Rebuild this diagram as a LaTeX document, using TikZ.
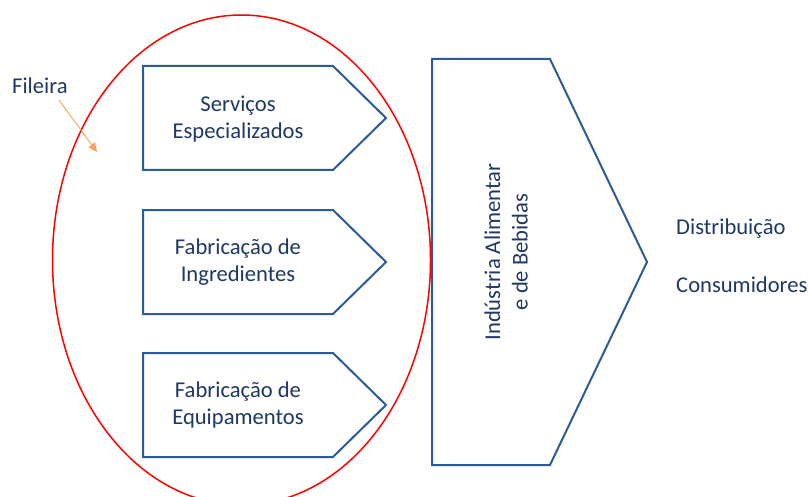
\documentclass[tikz,border=0pt]{standalone}
\usepackage{fontspec}
\setmainfont{Carlito}
\usetikzlibrary{arrows.meta}
\definecolor{lineblue}{HTML}{2B5C99}
\definecolor{txtnavy}{HTML}{1F3864}
\definecolor{ringred}{HTML}{FF0000}
\definecolor{arroworange}{HTML}{F7A35C}
\tikzset{
  chev/.style={draw=lineblue, line width=2pt, line join=miter},
  lbl/.style={text=txtnavy, font=\fontsize{22.6}{27.5}\selectfont, align=center, inner sep=0pt},
  sidelbl/.style={text=txtnavy, font=\fontsize{22.6}{27.5}\selectfont, anchor=west, inner sep=0pt},
}
\begin{document}
\begin{tikzpicture}[x=1pt,y=-1pt]
\useasboundingbox (0,0) rectangle (808,497);
\fill[white] (0,0) rectangle (808,497);
% ellipse
\draw[ringred, line width=1.5pt] (241.5,260) ellipse [x radius=189, y radius=245];
% small chevrons
\draw[chev] (143,66) -- (333,66) -- (386,118) -- (333,170) -- (143,170) -- cycle;
\draw[chev] (143,210) -- (333,210) -- (386,262) -- (333,314) -- (143,314) -- cycle;
\draw[chev] (143,353) -- (333,353) -- (386,405) -- (333,457) -- (143,457) -- cycle;
% big chevron
\draw[chev] (432,59) -- (550,59) -- (647,262) -- (550,465) -- (432,465) -- cycle;
% texts
\node[lbl] (serv) at (238,119) {Serviços\\Especializados};
\node[lbl] (ingr) at (238,262) {Fabricação de\\Ingredientes};
\node[lbl] (equi) at (238,405) {Fabricação de\\Equipamentos};
\node[lbl, rotate=90] (ind) at (506,252) {Indústria Alimentar\\e de Bebidas};
\node[sidelbl] (dist) at (676,229) {Distribuição};
\node[sidelbl] (cons) at (676,285) {Consumidores};
\node[sidelbl] (fil) at (12,86) {Fileira};
\coordinate (arrs) at (59,100);
\coordinate (arre) at (97,152);
\draw[arroworange, line width=0.9pt, -{Triangle[length=9pt,width=8pt]}] (arrs) -- (arre);
\end{tikzpicture}
\end{document}
